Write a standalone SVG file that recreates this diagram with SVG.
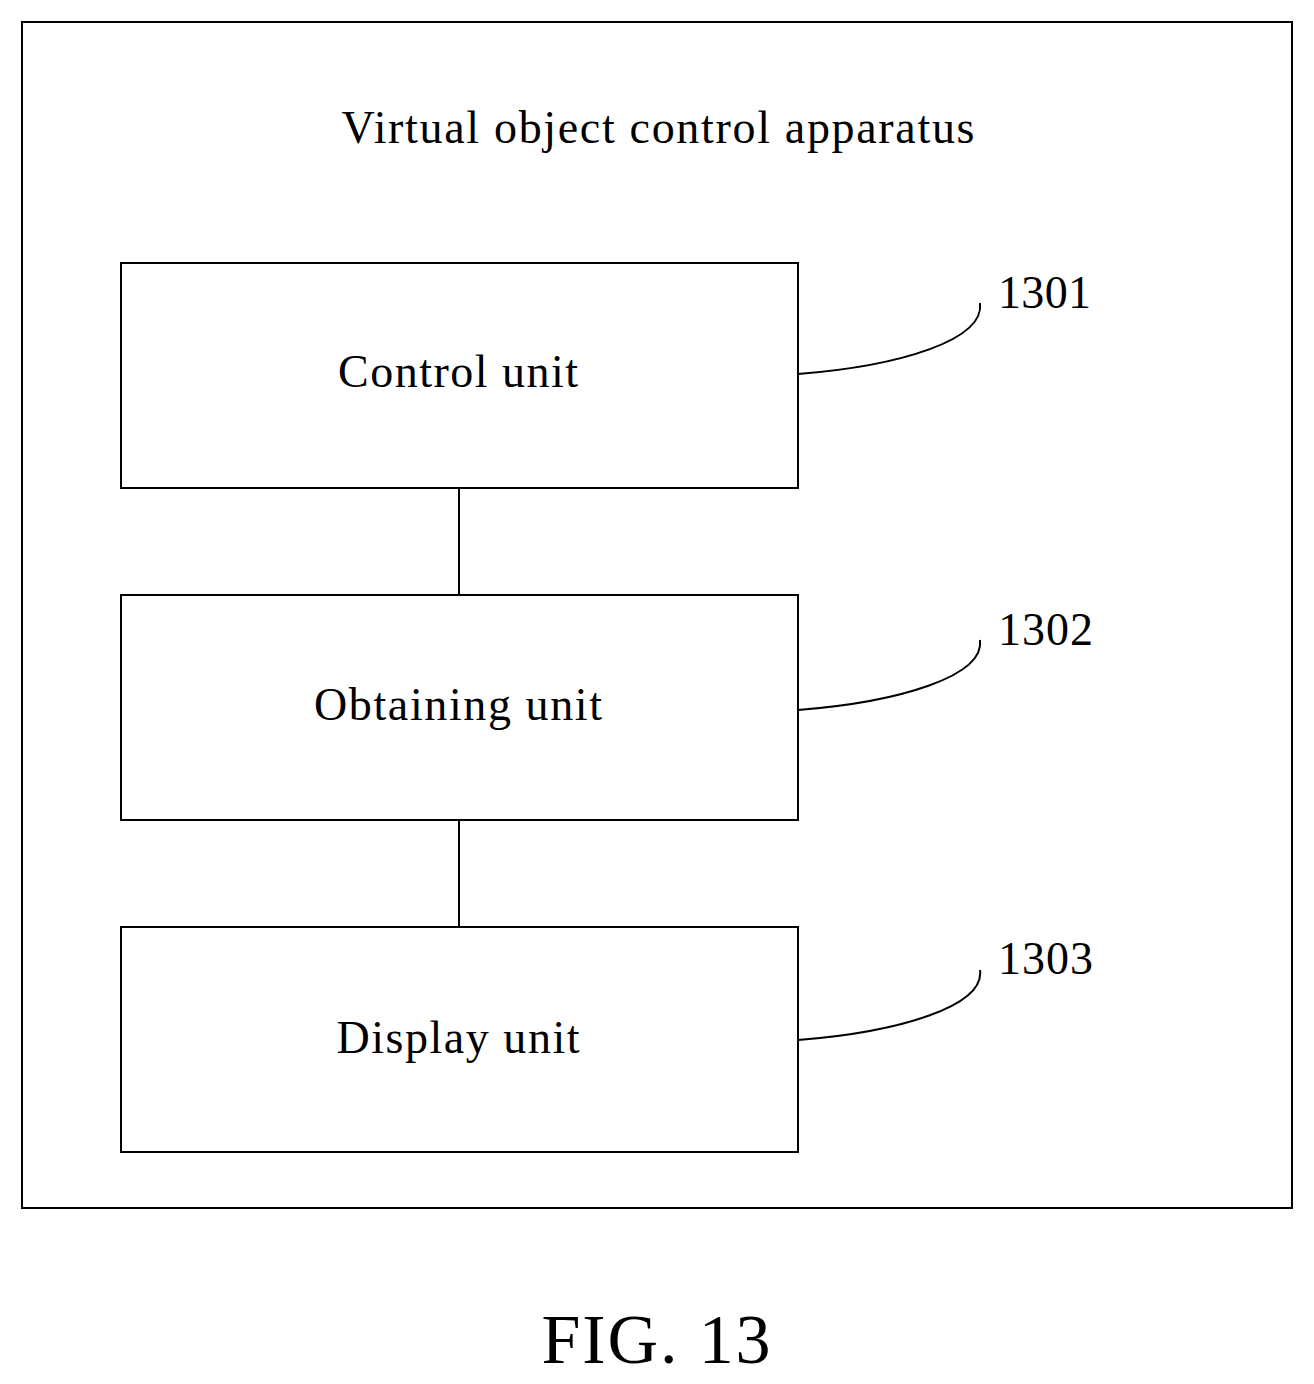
<svg xmlns="http://www.w3.org/2000/svg" width="1314" height="1384" viewBox="0 0 1314 1384">
<style>
.b{fill:none;stroke:#000;stroke-width:2}
.t{font-family:"Liberation Serif",serif;font-size:46px;text-anchor:middle}
.n{font-family:"Liberation Serif",serif;font-size:46px}
</style>
<rect width="1314" height="1384" fill="#fff"/>
<g id="outer"><rect class="b" x="22" y="22" width="1270" height="1186"/>
<text class="t" x="658" y="143" textLength="633" lengthAdjust="spacing">Virtual object control apparatus</text></g>
<g id="n1301"><rect class="b" x="121" y="263" width="677" height="225"/><text class="t" x="458" y="387" textLength="240" lengthAdjust="spacing">Control unit</text>
<path class="b" d="M798,374 C900,366 985,340 980,303"/><text class="n" x="998" y="308" textLength="93" lengthAdjust="spacing">1301</text></g>
<g id="n1302"><rect class="b" x="121" y="595" width="677" height="225"/><text class="t" x="458" y="720" textLength="288" lengthAdjust="spacing">Obtaining unit</text>
<path class="b" d="M798,710 C900,702 985,676 980,640"/><text class="n" x="998" y="645" textLength="95" lengthAdjust="spacing">1302</text></g>
<g id="n1303"><rect class="b" x="121" y="927" width="677" height="225"/><text class="t" x="458" y="1053" textLength="243" lengthAdjust="spacing">Display unit</text>
<path class="b" d="M798,1040 C900,1032 985,1006 980,970"/><text class="n" x="998" y="974" textLength="95" lengthAdjust="spacing">1303</text></g>
<g id="connectors"><line class="b" x1="459" y1="488" x2="459" y2="595"/><line class="b" x1="459" y1="820" x2="459" y2="927"/></g>
<text x="656" y="1363" font-family="Liberation Serif,serif" font-size="70" text-anchor="middle" textLength="229" lengthAdjust="spacing">FIG. 13</text>
</svg>
